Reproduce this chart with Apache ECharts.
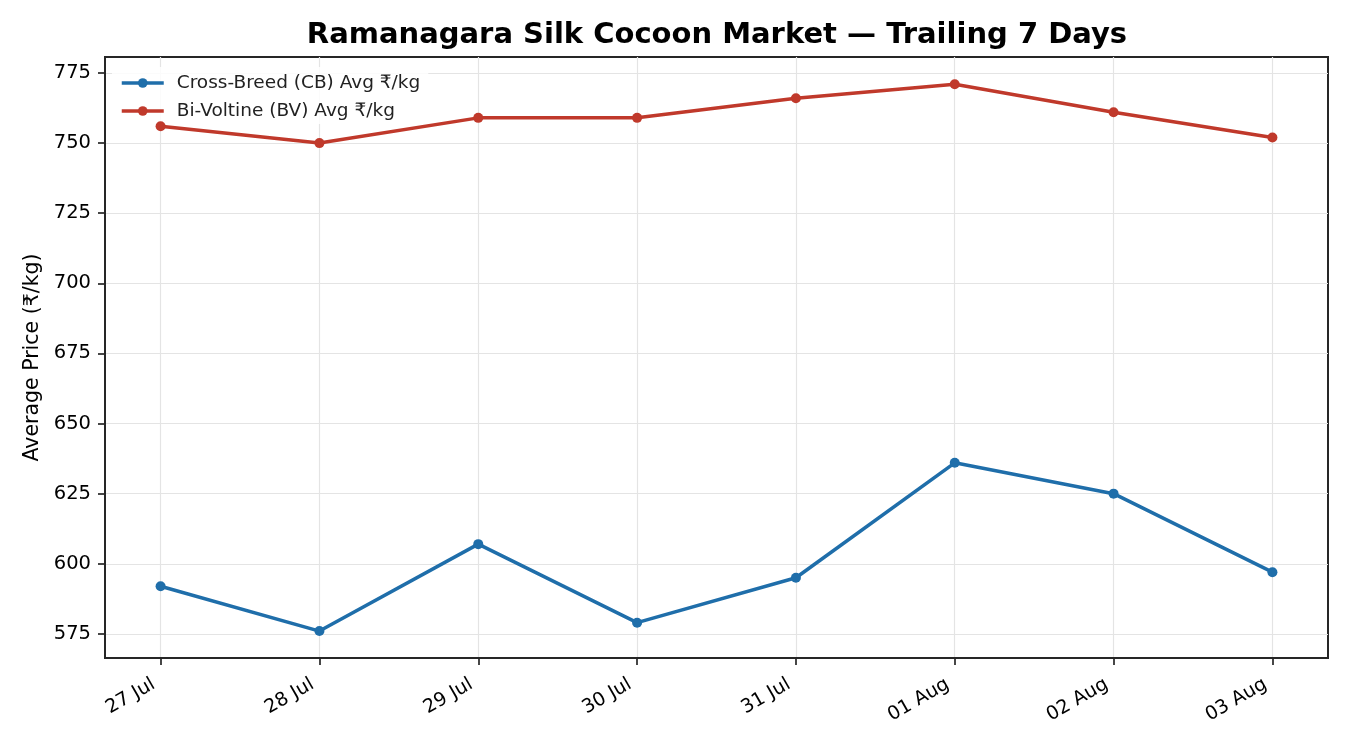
<!DOCTYPE html>
<html>
<head>
<meta charset="utf-8">
<script src="https://cdn.jsdelivr.net/npm/echarts@6/dist/echarts.min.js"></script>
<style>
html, body { margin: 0; padding: 0; background: #fff; }
#chart { width: 1350px; height: 750px; }
</style>
</head>
<body>
<div id="chart"></div>
<script>
// dates on the x axis
var days = ['27 Jul', '28 Jul', '29 Jul', '30 Jul', '31 Jul', '01 Aug', '02 Aug', '03 Aug'];
// average prices, rupees per kg
var cbAvg = [592, 576, 607, 579, 595, 636, 625, 597];
var bvAvg = [756, 750, 759, 759, 766, 771, 761, 752];
// y tick labels
var yTicks = [575, 600, 625, 650, 675, 700, 725, 750, 775];

function toPoints(arr) {
    var pts = [];
    for (var i = 0; i < arr.length; i++) {
        pts.push([i, arr[i]]);
    }
    return pts;
}
var xTicks = [];
for (var i = 0; i < days.length; i++) xTicks.push(i);

var font = 'DejaVu Sans';
var frame = '#262626';

var option = {
    animation: false,
    backgroundColor: '#fff',
    textStyle: { fontFamily: font },
    title: {
        text: 'Ramanagara Silk Cocoon Market \u2014 Trailing 7 Days',
        left: 712, top: 16, textAlign: 'center',
        textStyle: { fontFamily: font, fontSize: 29, fontWeight: 'bold', color: '#000' }
    },
    legend: {
        // under the lines, above the grid lines
        z: 1,
        left: 112, top: 67, orient: 'vertical', itemGap: 8,
        padding: [6, 8, 3, 8],
        backgroundColor: 'rgba(255,255,255,0.85)',
        itemWidth: 42, itemHeight: 12,
        lineStyle: { width: 3.5 },
        textStyle: { fontFamily: font, fontSize: 18.5, color: '#222', lineHeight: 20, padding: [0, 0, 0, 8] },
        data: ['Cross-Breed (CB) Avg \u20b9/kg', 'Bi-Voltine (BV) Avg \u20b9/kg']
    },
    grid: { left: 105, right: 22, top: 57, bottom: 92, show: true, borderColor: frame, borderWidth: 2, backgroundColor: 'transparent' },
    xAxis: {
        type: 'value', min: -0.35, max: 7.35,
        axisLine: { show: true, onZero: false, lineStyle: { color: frame, width: 2 } },
        axisTick: { show: true, customValues: xTicks, length: 7, lineStyle: { color: frame, width: 1.7 } },
        axisLabel: {
            customValues: xTicks, rotate: 30, fontSize: 19, color: '#000', fontFamily: font, margin: 21,
            padding: [0, 8, 0, 0],
            formatter: function (v) { return days[Math.round(v)]; }
        },
        splitLine: { show: true, lineStyle: { color: '#e4e4e4', width: 1.2 } }
    },
    yAxis: {
        type: 'value', min: 566.4, max: 780.7,
        name: 'Average Price (\u20b9/kg)', nameLocation: 'middle', nameGap: 61,
        nameTextStyle: { fontFamily: font, fontSize: 20.5, color: '#000' },
        axisLine: { show: true, onZero: false, lineStyle: { color: frame, width: 2 } },
        axisTick: { show: true, customValues: yTicks, length: 7, lineStyle: { color: frame, width: 1.7 } },
        axisLabel: { customValues: yTicks, fontSize: 19.5, color: '#000', fontFamily: font, margin: 14 },
        splitLine: { show: true, lineStyle: { color: '#e4e4e4', width: 1.2 } }
    },
    series: [
        {
            name: 'Cross-Breed (CB) Avg \u20b9/kg', type: 'line', data: toPoints(cbAvg),
            z: 3, symbol: 'circle', symbolSize: 10,
            lineStyle: { color: '#1f6eaa', width: 3.5 },
            itemStyle: { color: '#1f6eaa' }
        },
        {
            name: 'Bi-Voltine (BV) Avg \u20b9/kg', type: 'line', data: toPoints(bvAvg),
            z: 3, symbol: 'circle', symbolSize: 10,
            lineStyle: { color: '#c0392b', width: 3.5 },
            itemStyle: { color: '#c0392b' }
        }
    ]
};

var myChart = echarts.init(document.getElementById('chart'));
myChart.setOption(option);
</script>
</body>
</html>
